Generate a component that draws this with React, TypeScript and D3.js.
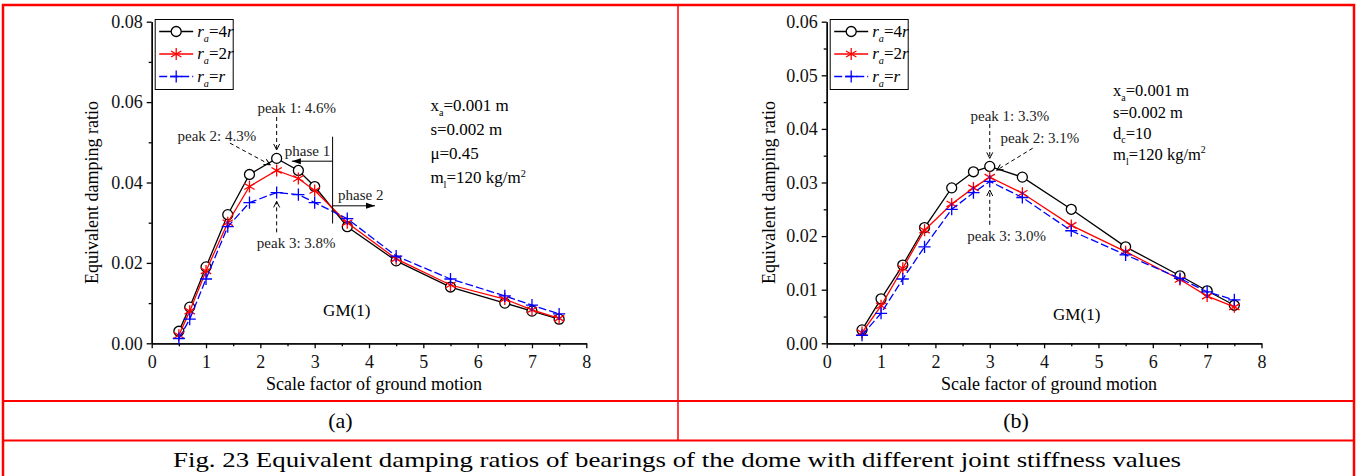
import { useEffect, useRef } from 'react';
import * as d3 from 'd3';

// panel (a): GM(1), mu = 0.45
const scaleA = [0.5, 0.7, 1.0, 1.4, 1.8, 2.3, 2.7, 3.0, 3.6, 4.5, 5.5, 6.5, 7.0, 7.5];
const a4r = [0.003, 0.009, 0.019, 0.032, 0.042, 0.046, 0.043, 0.039, 0.029, 0.0205, 0.014, 0.010, 0.008, 0.006];
const a2r = [0.002, 0.008, 0.018, 0.030, 0.039, 0.043, 0.041, 0.038, 0.030, 0.021, 0.0145, 0.011, 0.0083, 0.0062];
const a1r = [0.0012, 0.006, 0.016, 0.029, 0.035, 0.0375, 0.037, 0.035, 0.031, 0.0217, 0.016, 0.0118, 0.0095, 0.0073];

// panel (b): GM(1), dc = 10
const scaleB = [0.65, 1.0, 1.4, 1.8, 2.3, 2.7, 3.0, 3.6, 4.5, 5.5, 6.5, 7.0, 7.5];
const b4r = [0.0025, 0.0083, 0.0146, 0.0216, 0.029, 0.032, 0.033, 0.031, 0.025, 0.018, 0.0126, 0.0098, 0.0071];
const b2r = [0.002, 0.007, 0.014, 0.0211, 0.026, 0.029, 0.031, 0.028, 0.022, 0.0171, 0.0119, 0.0088, 0.0068];
const b1r = [0.0015, 0.0056, 0.012, 0.018, 0.025, 0.0281, 0.0302, 0.0272, 0.021, 0.0165, 0.0121, 0.0096, 0.0081];

const seriesLabels = ['4r', '2r', 'r'];
const xTicks = [0, 1, 2, 3, 4, 5, 6, 7, 8];
const yTicksA = [0, 0.02, 0.04, 0.06, 0.08];
const yTicksB = [0, 0.01, 0.02, 0.03, 0.04, 0.05, 0.06];

const FONT = 'Liberation Serif';
const colors = ['#000000', '#ff0000', '#0000ff'];
const symbols = [d3.symbolCircle, (d3 as any).symbolAsterisk || d3.symbolStar, (d3 as any).symbolPlus || d3.symbolCross];
const symSizes = [78, 100, 50];

type Part = { s: string; it?: boolean; sub?: boolean; sup?: boolean };

function rich(g: any, x: number, y: number, parts: Part[], size: number, anchor = 'start') {
  const t = g.append('text').attr('x', x).attr('y', y).style('font-size', size + 'px')
    .attr('text-anchor', anchor).style('font-family', FONT);
  let shift = 0;
  parts.forEach(p => {
    const target = p.sub ? size * 0.3 : p.sup ? -size * 0.4 : 0;
    t.append('tspan')
      .attr('dy', target - shift)
      .style('font-size', (p.sub || p.sup ? size * 0.6 : size) + 'px')
      .style('font-style', p.it ? 'italic' : 'normal')
      .text(p.s);
    shift = target;
  });
  return t;
}

function label(g: any, x: number, y: number, s: string, size: number, anchor = 'middle') {
  return g.append('text').attr('x', x).attr('y', y).attr('text-anchor', anchor)
    .style('font-family', FONT).style('font-size', size + 'px').text(s);
}

function drawPanel(svg: any, cfg: any) {
  const g = svg.append('g');
  const x = d3.scaleLinear().domain([0, 8]).range(cfg.xRange);
  const y = d3.scaleLinear().domain([0, cfg.yMax]).range([343.3, 21.7]);

  // axes
  const yAxis = d3.axisLeft(y).tickValues(cfg.yTicks).tickSize(5).tickSizeOuter(0).tickPadding(4)
    .tickFormat(d3.format('.2f') as any);
  const yMinor = d3.axisLeft(y).tickValues(cfg.yMinor).tickSize(3).tickSizeOuter(0).tickFormat(() => '');
  const xAxis = d3.axisBottom(x).tickValues(xTicks).tickSize(5).tickSizeOuter(0).tickPadding(7)
    .tickFormat(d3.format('d') as any);
  const xMinor = d3.axisBottom(x).tickValues(xTicks.slice(0, -1).map(v => v + 0.5)).tickSize(3).tickSizeOuter(0).tickFormat(() => '');

  [yMinor, yAxis].forEach(ax => {
    g.append('g').attr('transform', `translate(${cfg.xRange[0]},0)`).call(ax);
  });
  [xMinor, xAxis].forEach(ax => {
    g.append('g').attr('transform', `translate(0,${y(0)})`).call(ax);
  });
  g.selectAll('.domain, .tick line').attr('stroke', '#000').attr('stroke-width', 1.3);
  g.selectAll('.tick text').style('font-family', FONT).style('font-size', '18px').attr('fill', '#111');

  // axis titles
  g.append('text')
    .attr('transform', `translate(${cfg.yLabelX},${(y(0) + y(cfg.yMax)) / 2 + 10}) rotate(-90)`)
    .attr('text-anchor', 'middle').style('font-family', FONT).style('font-size', '18px')
    .text('Equivalent damping ratio');
  label(g, (cfg.xRange[0] + cfg.xRange[1]) / 2 + 5, 390, 'Scale factor of ground motion', 18);

  // series
  const line = d3.line<[number, number]>().x(d => x(d[0])).y(d => y(d[1]));
  cfg.series.forEach((vals: number[], i: number) => {
    const pts: [number, number][] = cfg.xs.map((v: number, k: number) => [v, vals[k]]);
    g.append('path').attr('d', line(pts)).attr('fill', 'none').attr('stroke', colors[i])
      .attr('stroke-width', 1.3).attr('stroke-dasharray', i === 2 ? '8,3' : null);
    g.append('g').selectAll('path').data(pts).join('path')
      .attr('transform', (d: [number, number]) => `translate(${x(d[0])},${y(d[1])})`)
      .attr('d', d3.symbol(symbols[i], symSizes[i])())
      .attr('fill', i === 0 ? '#fff' : 'none').attr('stroke', colors[i]).attr('stroke-width', 1.3);
  });

  // legend
  const lx = cfg.xRange[0] + 3.5;
  g.append('rect').attr('x', lx).attr('y', 19.5).attr('width', 78).attr('height', 70)
    .attr('fill', '#fff').attr('stroke', '#000').attr('stroke-width', 1);
  seriesLabels.forEach((lab, i) => {
    const ly = 31.5 + i * 22.5;
    g.append('line').attr('x1', lx + 4).attr('x2', lx + 38).attr('y1', ly).attr('y2', ly)
      .attr('stroke', colors[i]).attr('stroke-width', 1.3).attr('stroke-dasharray', i === 2 ? '8,3' : null);
    g.append('path').attr('transform', `translate(${lx + 21},${ly})`)
      .attr('d', d3.symbol(symbols[i], symSizes[i])())
      .attr('fill', i === 0 ? '#fff' : 'none').attr('stroke', colors[i]).attr('stroke-width', 1.3);
    const n = lab.replace('r', '');
    rich(g, lx + 42, ly + 5, [
      { s: 'r', it: true }, { s: 'a', it: true, sub: true }, { s: '=' + n }, { s: 'r', it: true },
    ], 17);
  });

  // parameter block
  cfg.params.forEach((parts: Part[], i: number) => {
    rich(g, x(cfg.paramX), y(cfg.paramY[i]), parts, cfg.paramSize);
  });
  label(g, x(cfg.gm[0]), y(cfg.gm[1]), 'GM(1)', 17);

  // annotations
  cfg.notes.forEach((n: any) => {
    label(g, x(n.x), y(n.y), n.text, 15, n.anchor || 'middle').attr('fill', '#222');
  });
  cfg.arrows.forEach((a: any) => {
    g.append('line').attr('x1', x(a.from[0])).attr('y1', y(a.from[1]))
      .attr('x2', x(a.to[0])).attr('y2', y(a.to[1]))
      .attr('stroke', '#000').attr('stroke-width', 1)
      .attr('stroke-dasharray', a.solid ? null : '4,3')
      .attr('marker-end', a.head ? `url(#${a.head})` : null);
  });
}

const App = () => {
  const svgRef = useRef<SVGSVGElement>(null);

  useEffect(() => {
    const svg = d3.select(svgRef.current);
    svg.selectAll('*').remove();

    const defs = svg.append('defs');
    defs.append('marker').attr('id', 'openHead').attr('viewBox', '-8 -5 10 10').attr('refX', 0).attr('refY', 0)
      .attr('markerWidth', 10).attr('markerHeight', 10).attr('markerUnits', 'userSpaceOnUse').attr('orient', 'auto')
      .append('path').attr('d', 'M-6,-3L0,0L-6,3').attr('fill', 'none').attr('stroke', '#000').attr('stroke-width', 1);
    defs.append('marker').attr('id', 'solidHead').attr('viewBox', '-10 -5 12 10').attr('refX', 0).attr('refY', 0)
      .attr('markerWidth', 12).attr('markerHeight', 10).attr('markerUnits', 'userSpaceOnUse').attr('orient', 'auto')
      .append('path').attr('d', 'M-9,-3L0,0L-9,3Z').attr('fill', '#000');

    drawPanel(svg, {
      xRange: [151.7, 586.3], yMax: 0.08, yTicks: yTicksA,
      yMinor: [0.01, 0.03, 0.05, 0.07], yLabelX: 98,
      xs: scaleA, series: [a4r, a2r, a1r],
      paramX: 5.13, paramY: [0.0578, 0.0518, 0.0458, 0.0398], paramSize: 17,
      params: [
        [{ s: 'x' }, { s: 'a', sub: true }, { s: '=0.001 m' }],
        [{ s: 's=0.002 m' }],
        [{ s: 'μ=0.45' }],
        [{ s: 'm' }, { s: 'l', sub: true }, { s: '=120 kg/m' }, { s: '2', sup: true }],
      ],
      gm: [3.59, 0.0068],
      notes: [
        { text: 'peak 1: 4.6%', x: 2.67, y: 0.0572 },
        { text: 'peak 2: 4.3%', x: 1.2, y: 0.0503 },
        { text: 'phase 1', x: 2.45, y: 0.0466, anchor: 'start' },
        { text: 'phase 2', x: 3.43, y: 0.0357, anchor: 'start' },
        { text: 'peak 3: 3.8%', x: 2.66, y: 0.0237 },
      ],
      arrows: [
        { from: [2.3, 0.0563], to: [2.3, 0.0481], head: 'openHead' },
        { from: [1.44, 0.0498], to: [2.18, 0.0444], head: 'openHead' },
        { from: [2.3, 0.0276], to: [2.3, 0.0353], head: 'openHead' },
        { from: [3.33, 0.0514], to: [3.33, 0.0298], solid: true },
        { from: [3.33, 0.0453], to: [2.58, 0.0453], solid: true, head: 'solidHead' },
        { from: [3.33, 0.0342], to: [4.11, 0.0342], solid: true, head: 'solidHead' },
      ],
    });

    drawPanel(svg, {
      xRange: [826.7, 1261.5], yMax: 0.06, yTicks: yTicksB,
      yMinor: [0.005, 0.015, 0.025, 0.035, 0.045, 0.055], yLabelX: 775,
      xs: scaleB, series: [b4r, b2r, b1r],
      paramX: 5.27, paramY: [0.0462, 0.0421, 0.0382, 0.0342], paramSize: 16.5,
      params: [
        [{ s: 'x' }, { s: 'a', sub: true }, { s: '=0.001 m' }],
        [{ s: 's=0.002 m' }],
        [{ s: 'd' }, { s: 'c', sub: true }, { s: '=10' }],
        [{ s: 'm' }, { s: 'l', sub: true }, { s: '=120 kg/m' }, { s: '2', sup: true }],
      ],
      gm: [4.6, 0.0043],
      notes: [
        { text: 'peak 1: 3.3%', x: 3.37, y: 0.0415 },
        { text: 'peak 2: 3.1%', x: 3.2, y: 0.0373, anchor: 'start' },
        { text: 'peak 3: 3.0%', x: 3.31, y: 0.019 },
      ],
      arrows: [
        { from: [3.0, 0.0409], to: [3.0, 0.0345], head: 'openHead' },
        { from: [3.79, 0.0364], to: [3.13, 0.0323], head: 'openHead' },
        { from: [3.0, 0.0221], to: [3.0, 0.0286], head: 'openHead' },
      ],
    });

    // table frame
    const frame = svg.append('g').attr('stroke', '#ff0000').attr('fill', 'none');
    frame.append('path').attr('d', 'M3,476V5H1354V476').attr('stroke-width', 2.5);
    frame.append('line').attr('x1', 678).attr('x2', 678).attr('y1', 5).attr('y2', 440.5).attr('stroke-width', 1.5);
    frame.append('line').attr('x1', 3).attr('x2', 1354).attr('y1', 401).attr('y2', 401).attr('stroke-width', 2);
    frame.append('line').attr('x1', 3).attr('x2', 1354).attr('y1', 440.5).attr('y2', 440.5).attr('stroke-width', 2);

    label(svg, 340.5, 428, '(a)', 22);
    label(svg, 1016, 428, '(b)', 22);
    label(svg, 173, 467, 'Fig. 23 Equivalent damping ratios of bearings of the dome with different joint stiffness  values', 22, 'start')
      .attr('textLength', 1008).attr('lengthAdjust', 'spacingAndGlyphs');
  }, []);

  return (
    <svg ref={svgRef} width="1360" height="476"
      style={{ position: 'absolute', left: 0, top: 0, background: '#fff', fontFamily: 'Liberation Serif' }}></svg>
  );
};

export default App;
